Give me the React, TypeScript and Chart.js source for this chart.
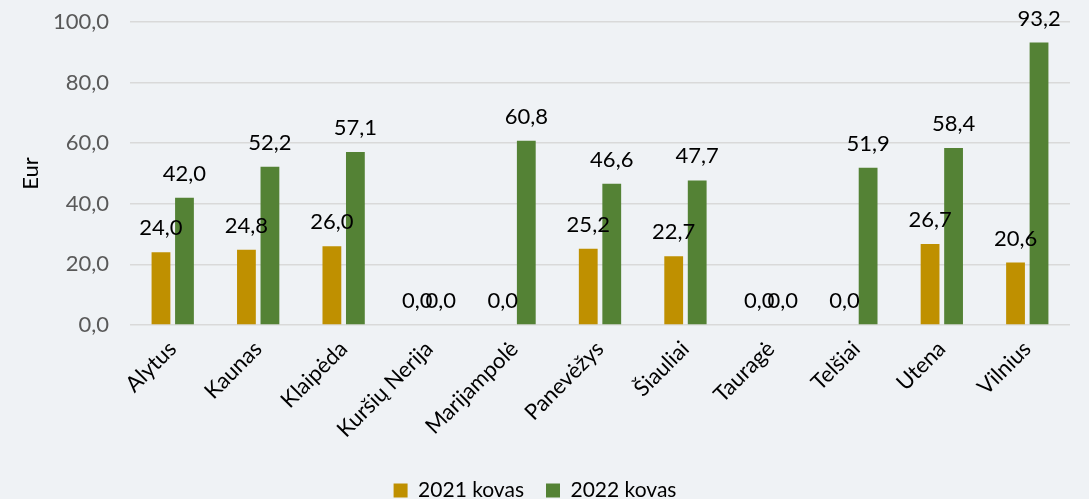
import React, { useEffect, useRef } from "react";
import { Chart, registerables } from "chart.js";

Chart.register(...registerables);

const categories = ["Alytus", "Kaunas", "Klaipėda", "Kuršių Nerija", "Marijampolė", "Panevėžys", "Šiauliai", "Tauragė", "Telšiai", "Utena", "Vilnius"];
const series2021 = [24.0, 24.8, 26.0, 0.0, 0.0, 25.2, 22.7, 0.0, 0.0, 26.7, 20.6];
const series2022 = [42.0, 52.2, 57.1, 0.0, 60.8, 46.6, 47.7, 0.0, 51.9, 58.4, 93.2];
const seriesNames = ["2021 kovas", "2022 kovas"];
const yTicks = [0, 20, 40, 60, 80, 100];
const yTitle = "Eur";

const FONT = "Lato, 'Open Sans', sans-serif";
const fmt = (v: number) => v.toFixed(1).replace(".", ",");

const labelPlugin = {
  id: "valueLabels",
  afterDatasetsDraw(chart: any) {
    const ctx = chart.ctx;
    ctx.save();
    ctx.font = `22px ${FONT}`;
    ctx.fillStyle = "#000000";
    ctx.textAlign = "center";
    ctx.textBaseline = "alphabetic";
    chart.data.datasets.forEach((ds: any, di: number) => {
      const meta = chart.getDatasetMeta(di);
      meta.data.forEach((el: any, i: number) => {
        const v = ds.data[i];
        ctx.fillText(fmt(v), el.x, el.y - 17);
      });
    });
    ctx.restore();
  },
};

export default function App() {
  const ref = useRef<HTMLCanvasElement>(null);
  useEffect(() => {
    document.body.style.margin = "0";
    document.body.style.background = "#EFF2F5";
    const chart = new Chart(ref.current!, {
      type: "bar",
      data: {
        labels: categories,
        datasets: [
          { label: seriesNames[0], data: series2021, backgroundColor: "#BF9000", categoryPercentage: 0.55, barPercentage: 0.8 },
          { label: seriesNames[1], data: series2022, backgroundColor: "#548235", categoryPercentage: 0.55, barPercentage: 0.8 },
        ],
      },
      options: {
        animation: false,
        responsive: false,
        maintainAspectRatio: false,
        layout: { padding: { top: 22, right: 19, left: 0, bottom: -12 } },
        plugins: {
          legend: {
            position: "bottom",
            labels: {
              boxWidth: 14,
              boxHeight: 14,
              padding: 22,
              color: "#000000",
              font: { family: FONT, size: 21 },
            },
          },
          tooltip: { enabled: false },
        },
        scales: {
          x: {
            grid: { display: false },
            border: { display: false },
            ticks: {
              minRotation: 45,
              maxRotation: 45,
              autoSkip: false,
              color: "#000000",
              font: { family: FONT, size: 22 },
            },
            afterFit(scale: any) {
              scale.height = 133;
              scale.paddingTop = 0;
            },
          },
          y: {
            min: 0,
            max: 100,
            afterBuildTicks(scale: any) {
              scale.ticks = yTicks.map((v) => ({ value: v }));
            },
            grid: { color: "#D9D9D9", lineWidth: 1.5, drawTicks: false },
            border: { display: false },
            ticks: {
              padding: 21,
              color: "#595959",
              font: { family: FONT, size: 22 },
              callback: (v: any) => fmt(Number(v)),
            },
            title: {
              display: true,
              text: yTitle,
              color: "#000000",
              font: { family: FONT, size: 22 },
              padding: { top: 18, bottom: 10 },
            },
            afterFit(scale: any) {
              scale.width = 130;
              scale.paddingTop = 0;
              scale.paddingBottom = 0;
            },
          },
        },
      },
      plugins: [labelPlugin],
    });
    return () => chart.destroy();
  }, []);
  return (
    <div style={{ width: 1089, height: 499, background: "#EFF2F5" }}>
      <canvas ref={ref} width={1089} height={499} />
    </div>
  );
}
